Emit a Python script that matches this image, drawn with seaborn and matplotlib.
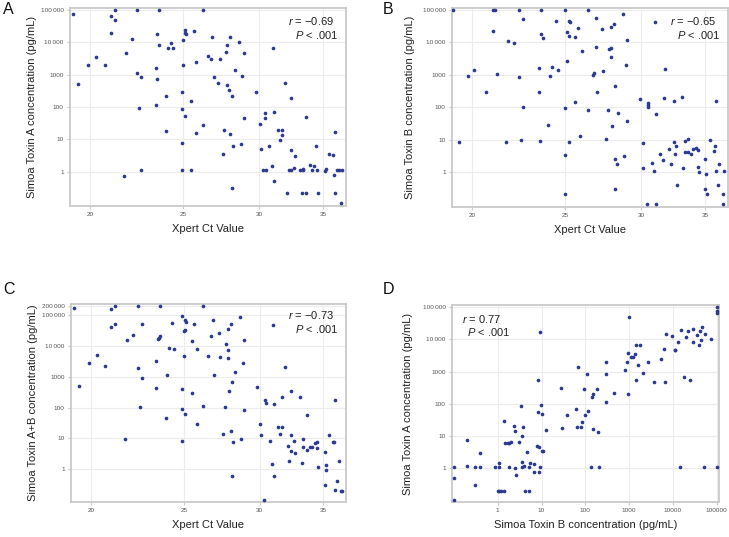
import numpy as np
import pandas as pd
import matplotlib
matplotlib.use("Agg")
import matplotlib.pyplot as plt
from matplotlib.ticker import NullLocator
import seaborn as sns

# ---------------- data ----------------
# Panel A: Xpert Ct vs Simoa Toxin A (pg/mL)
ct_A = [19.2, 19.4, 19.9, 20.3, 20.7, 21.0, 21.2, 21.2, 21.0, 21.8,
        21.7, 22.1, 22.4, 22.4, 22.6, 22.5, 22.6, 23.4, 23.5, 23.6,
        23.6, 23.5, 23.4, 23.96, 24.0, 24.1, 24.3, 24.4, 24.9, 24.9,
        24.9, 24.9, 25.0, 25.0, 25.1, 25.1, 25.15, 25.1, 25.5, 25.5,
        25.65, 25.8, 25.8, 26.2, 26.2, 26.5,
        26.8, 26.7, 26.9, 27.2, 27.3, 27.5, 27.6, 27.7, 27.8, 27.8,
        27.9, 28.0, 28.1, 28.0, 28.15, 28.1, 28.3, 28.6, 28.7, 28.8,
        28.9, 28.9, 29.8, 30.05, 30.1, 30.3, 30.5, 30.4, 30.45, 30.75,
        30.9, 31.0, 31.05, 31.05, 31.4, 31.7, 31.5, 31.7, 31.9, 32.1,
        32.2, 32.4, 32.4, 32.4, 32.6, 32.7, 33.1, 33.25, 33.3, 33.35,
        33.6, 33.6, 33.9, 34.05, 34.25, 34.35, 34.45, 34.55, 35.1, 35.2,
        35.45, 35.8, 35.9, 36.0, 36.0, 36.2, 36.3, 36.55, 36.6]
toxA_A = [77000, 521, 1975, 3580, 1975, 66700, 50000, 100000, 18900, 4650,
          0.72, 12900, 100000, 1140, 820, 92, 1.1, 1630, 17600, 100000,
          8430, 710, 111, 18, 211, 6640, 9720, 6500, 294, 85,
          7.9, 1.1, 1930, 12000, 24000, 19000, 18500, 53, 158, 1.1,
          21800, 15.8, 2500, 100000, 26.7, 3660,
          14600, 2960, 859, 547, 3030, 3.4, 19.6, 5110, 8430, 485,
          324, 14200, 216, 14.7, 6.0, 0.30, 1380, 10400, 6.9, 880,
          4650, 46, 288, 29, 4.9, 1.1, 1.1, 46, 63, 6.4,
          1.5, 6800, 69, 0.5, 20, 20, 9.8, 13.7, 547, 0.21,
          1.1, 192, 4.7, 1.1, 1.27, 3.1, 1.1, 0.21, 1.18, 1.1,
          48, 0.21, 1.65, 1.1, 1.5, 6.2, 1.1, 0.21, 1.07, 1.2,
          3.4, 3.2, 0.81, 17, 0.21, 1.1, 1.1, 0.105, 1.1]

# Panel B: Xpert Ct vs Simoa Toxin B (pg/mL)
ct_B = [19.1, 19.35, 19.8, 20.1, 20.65, 21.0, 21.1, 21.0, 21.2, 21.7,
        21.8, 22.1, 22.4, 22.4, 22.6, 22.6, 22.5, 23.45, 23.45, 23.6,
        23.6, 23.7, 23.55, 24.0, 24.1, 24.2, 24.45, 24.55, 25.0, 25.0,
        25.0, 25.0, 25.1, 25.1, 25.2, 25.3, 25.2, 25.2, 25.6, 25.6,
        25.8, 25.9, 26.0, 26.4, 26.4, 26.7, 26.8, 26.9, 26.9, 27.0,
        27.3, 27.4, 27.6, 27.7, 27.8, 27.9, 27.9, 27.9, 28.0, 28.1,
        28.2, 28.2, 28.3, 28.2, 28.4, 28.7, 28.8, 28.9, 29.0, 29.0,
        29.9, 30.1, 30.1, 30.4, 30.5, 30.5, 30.5, 30.8, 30.9, 31.0,
        31.05, 31.05, 31.4, 31.6, 31.7, 31.8, 32.1, 32.2, 32.45, 32.45,
        32.5, 32.6, 32.7, 33.05, 33.2, 33.3, 33.3, 33.6, 33.55, 33.85,
        34.0, 34.2, 34.4, 34.4, 34.5, 35.0, 35.0, 35.05, 35.1, 35.35,
        35.7, 35.8, 35.9, 35.9, 36.1, 36.2, 36.5, 36.6, 36.5]
toxB_B = [100000, 8.9, 900, 1380, 309, 100000, 100000, 22300, 1040, 8.7,
          10900, 9700, 100000, 840, 51400, 106, 9.8, 1590, 302, 100000,
          18000, 13500, 9.1, 28.6, 945, 1750, 46600, 1410, 100000, 99,
          3.4, 0.21, 20300, 2750, 44600, 44000, 15600, 8.5, 14600, 144,
          27700, 13, 5620, 100000, 83, 967, 1170, 55200, 7130, 309,
          25200, 1320, 10.8, 81, 6310, 6600, 29700, 3660, 27, 37700,
          442, 2.5, 1.8, 0.3, 69, 75100, 3.1, 2070, 11500, 39,
          187, 8.1, 1.4, 0.105, 119, 141, 103, 2.0, 1.1, 42500,
          63, 0.105, 3.8, 2.4, 201, 1480, 5.3, 1.8, 158, 8.7,
          3.8, 6.7, 0.40, 216, 1.4, 9.4, 4.1, 10.5, 4.1, 3.7,
          5.4, 5.8, 5.0, 1.5, 1.0, 2.5, 0.3, 0.89, 0.21, 9.8,
          4.7, 6.5, 158, 1.1, 0.4, 1.8, 0.21, 1.1, 0.105]

# Panel C: Xpert Ct vs Simoa Toxin A+B (pg/mL)
ct_C = [19.2, 19.4, 19.9, 20.3, 20.7, 21.0, 21.2, 21.0, 21.2, 21.7,
        21.8, 22.1, 22.4, 22.4, 22.6, 22.5, 22.6, 23.4, 23.4, 23.5,
        23.55, 23.6, 23.6, 23.96, 24.0, 24.1, 24.3, 24.4, 24.9, 24.9,
        24.9, 24.9, 25.0, 25.0, 25.1, 25.1, 25.15, 25.1, 25.5, 25.5,
        25.65, 25.8, 25.8, 26.2, 26.2, 26.5,
        26.8, 26.7, 26.9, 27.2, 27.3, 27.5, 27.6, 27.7, 27.8, 27.8,
        27.8, 27.9, 28.0, 28.1, 28.0, 28.15, 28.1, 28.3, 28.6, 28.7,
        28.8, 28.9, 28.9, 29.8, 30.05, 30.1, 30.3, 30.4, 30.45, 30.75,
        30.9, 31.0, 31.05, 31.05, 31.4, 31.7, 31.5, 31.7, 31.9, 32.1,
        32.2, 32.4, 32.4, 32.4, 32.6, 32.7, 33.1, 33.25, 33.35, 33.3,
        33.6, 33.6, 33.9, 34.05, 34.25, 34.45, 34.45, 34.55, 35.1, 35.2,
        35.2, 35.1, 35.45, 35.8, 35.9, 36.0, 36.0, 36.2, 36.3, 36.55,
        36.6]
toxAB_C = [173000, 515, 2880, 4990, 2300, 161000, 200000, 42800, 51000, 9.7,
           15700, 22300, 200000, 1930, 937, 104, 51000, 3270, 422, 17000,
           18500, 21800, 200000, 46, 1140, 8440, 56300, 7830, 97600, 391,
           87, 7.9, 4630, 31700, 33800, 68800, 60000, 60, 305, 14600,
           52200, 29, 8030, 200000, 112, 4630,
           68800, 21800, 1140, 26600, 4300, 14, 102, 11700, 36800, 7450,
           4200, 345, 52000, 678, 16.8, 7.6, 0.59, 1470, 88300, 9.7,
           2880, 15700, 83, 466, 30, 12.8, 0.1, 180, 140, 8.4,
           1.5, 49700, 130, 0.59, 24, 23, 13.4, 220, 2030, 5.5,
           1.8, 345, 13, 3.8, 7.9, 3.4, 215, 1.6, 9.2, 5.2,
           57, 4.3, 5.2, 5.2, 7.0, 7.6, 4.9, 1.16, 3.6, 1.4,
           0.93, 0.30, 13, 7.8, 7.6, 171, 0.21, 0.41, 1.8, 0.20,
           0.20]

# Panel D: Simoa Toxin B vs Simoa Toxin A (pg/mL)
toxB_D = [0.1, 0.1, 0.1, 0.195, 0.195, 0.30, 0.30, 0.40, 0.40, 0.88,
          1.0, 1.05, 1.09, 1.07, 1.17, 1.37, 1.4, 1.5, 1.72, 1.82,
          1.85, 2.0, 2.4, 2.45, 2.54, 2.67, 3.08, 3.36, 3.55, 3.67,
          3.8, 3.67, 4.0, 4.15, 4.6, 5.2, 5.3, 5.6, 6.7, 6.8,
          7.8, 8.2, 8.4, 8.7, 8.8, 9.0, 9.3, 9.8, 10, 10.4,
          10.7, 13, 28.2, 28.7, 39,
          60, 65, 70, 82, 84, 98, 96, 107, 116, 138,
          151, 146, 151, 187, 200, 211, 299, 299, 304, 448,
          824, 900, 964, 964, 1016, 1130, 1230, 1350, 1440, 1470,
          1580, 1780, 2050, 2750, 3710, 5350, 6370, 6710, 6960, 9700,
          11000, 11500, 13500, 14500, 15300, 17900, 19900, 22400, 24500, 28300,
          28700, 36700, 39900, 42100, 44400, 46000, 51900, 53800, 75000, 100000,
          100000, 100000, 100000]
toxA_D = [1.1, 0.49, 0.10, 7.7, 1.15, 1.1, 0.30, 3.0, 1.1, 1.1,
          0.20, 1.1, 1.46, 0.20, 0.20, 28.6, 0.20, 6.1, 6.0, 1.1,
          6.1, 6.4, 21, 14.7, 0.98, 0.59, 6.7, 83, 1.6, 1.1,
          19.6, 9.8, 1.15, 0.20, 3.1, 1.1, 0.20, 1.46, 0.77, 1.3,
          4.8, 54, 533, 4.6, 0.73, 17600, 1.1, 94, 3.4, 47,
          3.4, 15.8, 316, 17.8, 44,
          69, 19.6, 1350, 19, 27, 45, 294, 820, 61, 1.1,
          17, 160, 196, 288, 13.7, 1.1, 1970, 840, 111, 216,
          1140, 2020, 3660, 206, 51400, 2890, 2890, 3580, 6490, 547,
          1630, 6640, 880, 1930, 474, 2450, 5110, 485, 14600, 12900,
          4650, 4650, 8430, 1.1, 19400, 693, 12000, 18900, 547, 21800,
          8430, 13900, 6640, 18900, 9720, 24000, 1.1, 14600, 10200, 100000,
          78800, 65200, 1.1]

ct_ticks = [20, 25, 30, 35]
conc_ticks = [1, 10, 100, 1000, 10000, 100000]
conc_tick_labels = ["1", "10", "100", "1000", "10\u2009000", "100\u2009000"]
conc_ticks_C = [1, 10, 100, 1000, 10000, 100000, 200000]
conc_tick_labels_C = ["1", "10", "100", "1000", "10\u2009000", "100\u2009000", "200\u2009000"]
toxB_tick_labels = ["1", "10", "100", "1000", "10000", "100000"]

stats = {"A": ("\u22120.69", ".001"), "B": ("\u22120.65", ".001"),
         "C": ("\u22120.73", ".001"), "D": ("0.77", ".001")}

# ---------------- style ----------------
sns.set_theme(style="white")
plt.rcParams["font.family"] = ["Liberation Sans", "DejaVu Sans"]
plt.rcParams["mathtext.fontset"] = "custom"
plt.rcParams["mathtext.it"] = "Liberation Sans:italic"
plt.rcParams["mathtext.rm"] = "Liberation Sans"

POINT = "#2b3990"
SPINE = "#c9c9c9"
GRID = "#ececec"

fig = plt.figure(figsize=(7.29, 5.37), dpi=100)
W, H = 729.0, 537.0


def make_ax(l, r, t, b):
    return fig.add_axes([l / W, 1 - b / H, (r - l) / W, (b - t) / H])


axA = make_ax(70, 346, 8, 206)
axB = make_ax(452, 728, 8, 207)
axC = make_ax(71, 346, 304, 502)
axD = make_ax(452, 719, 305, 502)

panels = [
    (axA, ct_A, toxA_A, "Xpert Ct Value", "Simoa Toxin A concentration (pg/mL)"),
    (axB, ct_B, toxB_B, "Xpert Ct Value", "Simoa Toxin B concentration (pg/mL)"),
    (axC, ct_C, toxAB_C, "Xpert Ct Value", "Simoa Toxin A+B concentration (pg/mL)"),
    (axD, toxB_D, toxA_D, "Simoa Toxin B concentration (pg/mL)", "Simoa Toxin A concentration (pg/mL)"),
]

for ax, xv, yv, xl, yl in panels:
    df = pd.DataFrame({"x": xv, "y": yv})
    sns.scatterplot(data=df, x="x", y="y", ax=ax, color=POINT, s=7,
                    linewidth=0, zorder=3)
    ax.set_xscale("log")
    ax.set_yscale("log")
    ax.set_xlabel(xl, fontsize=8, color="#222222")
    ax.set_ylabel(yl, fontsize=8, color="#222222")
    ax.grid(True, which="major", color=GRID, lw=0.8, zorder=0)
    for sp in ax.spines.values():
        sp.set_visible(True)
        sp.set_color(SPINE)
        sp.set_linewidth(1.3)
    ax.tick_params(axis="both", which="major", labelsize=4.6, labelcolor="#555555",
                   color=SPINE, length=2.5, width=0.8, pad=2,
                   bottom=True, left=True)
    ax.set_axisbelow(True)

# x axes (Ct)
for ax in (axA, axB, axC):
    ax.set_xlim(19.05, 36.95)
    ax.set_xticks(ct_ticks)
    ax.set_xticklabels([str(t) for t in ct_ticks])
    ax.xaxis.set_minor_locator(NullLocator())

# y axes
for ax in (axA, axB):
    ax.set_ylim(0.086, 115000)
    ax.set_yticks(conc_ticks)
    ax.set_yticklabels(conc_tick_labels)
axC.set_ylim(0.085, 233000)
axC.set_yticks(conc_ticks_C)
axC.set_yticklabels(conc_tick_labels_C)
axD.set_ylim(0.088, 118000)
axD.set_yticks(conc_ticks)
axD.set_yticklabels(conc_tick_labels)
axD.set_xlim(0.09, 114000)
axD.set_xticks(conc_ticks)
axD.set_xticklabels(toxB_tick_labels)
for ax in (axA, axB, axC, axD):
    ax.yaxis.set_minor_locator(NullLocator())
    ax.xaxis.set_minor_locator(NullLocator())

# label positions
axA.yaxis.set_label_coords(-0.12, 0.5)
axB.yaxis.set_label_coords(-0.134, 0.5)
axC.yaxis.set_label_coords(-0.12, 0.5)
axD.yaxis.set_label_coords(-0.146, 0.5)
for ax in (axA, axB, axC, axD):
    ax.xaxis.set_label_coords(0.5, -0.092)

# statistics annotations
ann_kw = dict(fontsize=8, color="#222222")
for ax, key in ((axA, "A"), (axB, "B"), (axC, "C")):
    r, p = stats[key]
    ytop = 0.934 if key != "C" else 0.944
    ax.text(0.957, ytop, r"$\mathit{r}$ = " + r, transform=ax.transAxes,
            ha="right", va="center", **ann_kw)
    ax.text(0.971, ytop - 0.07, r"$\mathit{P}$ < " + p, transform=ax.transAxes,
            ha="right", va="center", **ann_kw)
r, p = stats["D"]
axD.text(0.036, 0.929, r"$\mathit{r}$ = " + r, transform=axD.transAxes,
         ha="left", va="center", **ann_kw)
axD.text(0.055, 0.864, r"$\mathit{P}$ < " + p, transform=axD.transAxes,
         ha="left", va="center", **ann_kw)

# panel letters
for letter, (px, py) in {"A": (3, 10), "B": (383, 10), "C": (3, 290), "D": (383, 290)}.items():
    fig.text(px / W, 1 - py / H, letter, fontsize=11.5, color="#111111",
             ha="left", va="center")

fig.savefig("out.png", dpi=100)
